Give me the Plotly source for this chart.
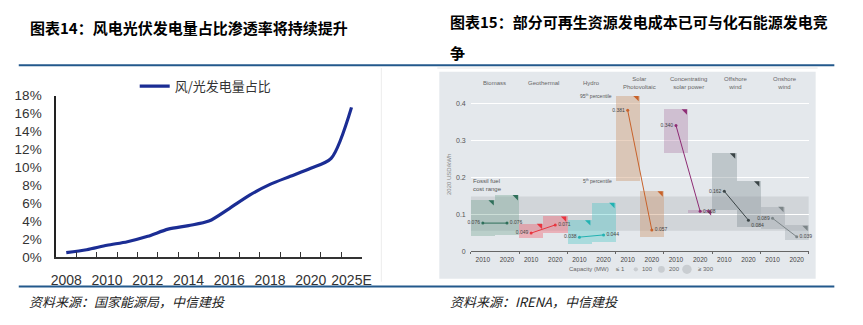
import plotly.graph_objects as go

W, H = 863, 325

# ---------------- Left chart data ----------------
years = ["2008", "2009", "2010", "2011", "2012", "2013", "2014", "2015",
         "2016", "2017", "2018", "2019", "2020", "2021", "2025E"]
year_labels = ["2008", "", "2010", "", "2012", "", "2014", "", "2016", "",
               "2018", "", "2020", "", "2025E"]
share = [0.47, 0.8, 1.3, 1.7, 2.3, 3.1, 3.5, 4.0, 5.4, 6.9, 8.1, 9.0, 9.9, 11.0, 16.7]
y_ticks = [0, 2, 4, 6, 8, 10, 12, 14, 16, 18]
y_ticktext = [f"{v}%" for v in y_ticks]

# ---------------- Right chart data ----------------
techs = ["Biomass", "Geothermal", "Hydro", "Solar<br>Photovoltaic",
         "Concentrating<br>solar power", "Offshore<br>wind", "Onshore<br>wind"]
periods = ["2010", "2020"]
p5_2010 = [0.041, 0.037, 0.021, 0.191, 0.266, 0.113, 0.060]
p95_2010 = [0.139, 0.075, 0.085, 0.421, 0.385, 0.266, 0.121]
p5_2020 = [0.044, 0.049, 0.026, 0.039, 0.105, 0.065, 0.031]
p95_2020 = [0.153, 0.095, 0.132, 0.163, 0.112, 0.190, 0.070]
avg_2010 = [0.076, 0.049, 0.038, 0.381, 0.340, 0.162, 0.089]
avg_2020 = [0.076, 0.071, 0.044, 0.057, 0.108, 0.084, 0.039]
fossil_range = [0.055, 0.148]
r_yticks = [0, 0.1, 0.2, 0.3, 0.4]
r_yticktext = ["0", "0.1", "0.2", "0.3", "0.4"]

box_colors = ["rgba(110,160,140,0.35)", "rgba(240,100,115,0.42)", "rgba(60,195,195,0.35)",
              "rgba(205,150,110,0.42)", "rgba(170,115,160,0.35)", "rgba(120,135,140,0.35)",
              "rgba(140,150,155,0.30)"]
line_colors = ["#2f6f5a", "#e8353f", "#22b2b2", "#c8622a", "#8e2c74", "#3a4446", "#7c8588"]
pos_2020 = ["middle right"] * 5 + ["bottom right", "middle right"]

fig = go.Figure()

# Left line
fig.add_trace(go.Scatter(
    x=years, y=share, mode="lines", name="风/光发电量占比",
    line=dict(color="#1b2d94", width=3.2, shape="spline", smoothing=0.8),
    xaxis="x", yaxis="y", showlegend=True))

# Right boxes
for t, name in enumerate(techs):
    for j, (lo, hi) in enumerate([(p5_2010[t], p95_2010[t]), (p5_2020[t], p95_2020[t])]):
        cx = 2 * t + j + 0.5
        fig.add_trace(go.Bar(x=[cx], y=[hi - lo], base=[lo], width=1,
                             marker=dict(color=box_colors[t], line=dict(width=0)),
                             xaxis="x2", yaxis="y2", showlegend=False, hoverinfo="skip"))
        fig.add_trace(go.Scatter(x=[cx + 0.38], y=[hi - 0.006], mode="markers",
                                 marker=dict(symbol="triangle-ne", size=6, color=line_colors[t]),
                                 xaxis="x2", yaxis="y2", showlegend=False, hoverinfo="skip"))

for t, name in enumerate(techs):
    fig.add_trace(go.Scatter(
        x=[2 * t + 0.5, 2 * t + 1.5], y=[avg_2010[t], avg_2020[t]],
        mode="lines+markers+text",
        text=[f"{avg_2010[t]:.3f}", f"{avg_2020[t]:.3f}"],
        textposition=["middle left", pos_2020[t]],
        textfont=dict(size=5, color="#444", family="Liberation Sans"),
        line=dict(color=line_colors[t], width=1),
        marker=dict(color=line_colors[t], size=3),
        cliponaxis=False,
        xaxis="x2", yaxis="y2", showlegend=False, hoverinfo="skip"))

shapes = [
    # separators
    dict(type="line", xref="paper", yref="paper", x0=14 / W, x1=844 / W, y0=1 - 61 / H, y1=1 - 61 / H,
         line=dict(color="#23598c", width=2)),
    dict(type="line", xref="paper", yref="paper", x0=14 / W, x1=844 / W, y0=1 - 293 / H, y1=1 - 293 / H,
         line=dict(color="#23598c", width=2)),
    dict(type="line", xref="paper", yref="paper", x0=383 / W, x1=383 / W, y0=1 - 64 / H, y1=1 - 288 / H,
         line=dict(color="#ececec", width=1)),
    dict(type="line", xref="paper", yref="paper", x0=440 / W, x1=827 / W, y0=1 - 64 / H, y1=1 - 64 / H,
         line=dict(color="#e6e6e6", width=1)),
    # right background
    dict(type="rect", xref="paper", yref="paper", x0=442 / W, x1=825 / W, y0=1 - 285 / H, y1=1 - 68 / H,
         fillcolor="#e4e8ec", line=dict(width=0), layer="below"),
    # fossil band
    dict(type="rect", xref="x2", yref="y2", x0=0, x1=14, y0=fossil_range[0], y1=fossil_range[1],
         fillcolor="rgba(140,145,150,0.22)", line=dict(width=0), layer="below"),
]
# capacity legend circles
for cx, r in [(622, 0.6), (642, 2.2), (668, 3.5), (694, 4.8)]:
    shapes.append(dict(type="circle", xref="paper", yref="paper",
                       x0=(cx - r) / W, x1=(cx + r) / W, y0=1 - (275 + r) / H, y1=1 - (275 - r) / H,
                       fillcolor="#c9cdd1", line=dict(width=0)))

ann = [
    dict(text="<b>图表14：风电光伏发电量占比渗透率将持续提升</b>", x=23 / W, y=1 - 22 / H,
         xanchor="left", yanchor="middle", font=dict(size=15, color="#000", family="Noto Sans CJK SC")),
    dict(text="<b>图表15：部分可再生资源发电成本已可与化石能源发电竞</b>", x=451 / W, y=1 - 15 / H,
         xanchor="left", yanchor="middle", font=dict(size=15, color="#000", family="Noto Sans CJK SC")),
    dict(text="<b>争</b>", x=451 / W, y=1 - 48 / H,
         xanchor="left", yanchor="middle", font=dict(size=15, color="#000", family="Noto Sans CJK SC")),
    dict(text="<i>资料来源：国家能源局，中信建投</i>", x=22 / W, y=1 - 309 / H,
         xanchor="left", yanchor="middle", font=dict(size=13, color="#222", family="Noto Sans CJK SC")),
    dict(text="<i>资料来源：IRENA，中信建投</i>", x=451 / W, y=1 - 309 / H,
         xanchor="left", yanchor="middle", font=dict(size=13, color="#222", family="Noto Sans CJK SC")),
    dict(text="2020 USD/kWh", x=452 / W, y=1 - 176 / H, textangle=-90,
         xanchor="center", yanchor="middle", font=dict(size=6, color="#888", family="Liberation Sans")),
    dict(text="Fossil fuel<br>cost range", x=0, y=fossil_range[1], xref="x2", yref="y2",
         xanchor="left", yanchor="bottom", align="left", yshift=2,
         font=dict(size=6, color="#555", family="Liberation Sans")),
    dict(text="95<sup>th</sup> percentile", x=6, y=p95_2010[3], xref="x2", yref="y2",
         xanchor="right", yanchor="middle", xshift=-2, font=dict(size=5, color="#555", family="Liberation Sans")),
    dict(text="5<sup>th</sup> percentile", x=6, y=p5_2010[3], xref="x2", yref="y2",
         xanchor="right", yanchor="middle", xshift=-2, font=dict(size=5, color="#555", family="Liberation Sans")),
    dict(text="Capacity (MW)", x=594 / W, y=1 - 275 / H, xanchor="center", yanchor="middle",
         font=dict(size=6, color="#666", family="Liberation Sans")),
]
for cx, lab in [(626, "≤ 1"), (654, "100"), (681, "200"), (713, "≥ 300")]:
    ann.append(dict(text=lab, x=cx / W, y=1 - 275 / H, xanchor="center", yanchor="middle",
                    font=dict(size=6, color="#666", family="Liberation Sans")))
for t, name in enumerate(techs):
    ann.append(dict(text=name, x=2 * t + 1, y=1 - 80 / H, xref="x2", yref="paper",
                    xanchor="center", yanchor="middle", align="center",
                    font=dict(size=6, color="#666", family="Liberation Sans")))
for a in ann:
    a.setdefault("xref", "paper")
    a.setdefault("yref", "paper")
    a["showarrow"] = False

fig.update_layout(
    width=W, height=H, margin=dict(l=0, r=0, t=0, b=0),
    paper_bgcolor="white", plot_bgcolor="rgba(0,0,0,0)",
    barmode="overlay", bargap=0,
    shapes=shapes, annotations=ann,
    legend=dict(x=132 / W, y=1 - 83 / H, xanchor="left", yanchor="middle",
                font=dict(size=13, color="#333", family="Noto Sans CJK SC"),
                bgcolor="rgba(0,0,0,0)", itemwidth=30),
    xaxis=dict(domain=[52 / W, 363 / W], anchor="y", type="category",
               categoryorder="array", categoryarray=years,
               tickmode="array", tickvals=years, ticktext=year_labels,
               tickson="boundaries", ticks="inside", ticklen=5, tickcolor="#333",
               showline=True, linecolor="#333", linewidth=1.5, showgrid=False,
               tickangle=0,
               tickfont=dict(size=14, color="#333", family="Liberation Sans"),
               ticklabelstandoff=10, range=[-0.5, 14.5]),
    yaxis=dict(domain=[1 - 262 / H, 1 - 93 / H], anchor="x", range=[0, 18],
               tickmode="array", tickvals=y_ticks, ticktext=y_ticktext,
               ticks="", showline=True, linecolor="#222", linewidth=1.5,
               showgrid=False, zeroline=False,
               tickfont=dict(size=13.5, color="#333", family="Liberation Sans"),
               ticklabelstandoff=10),
    xaxis2=dict(domain=[474 / W, 818 / W], anchor="y2", range=[0, 14],
                tickmode="array", tickvals=[k + 0.5 for k in range(14)],
                ticktext=[periods[k % 2] for k in range(14)],
                ticks="", showline=True, linecolor="#666", linewidth=1, showgrid=False,
                zeroline=False, tickangle=0,
                minor=dict(tick0=0, dtick=2, ticks="outside", ticklen=2, tickcolor="#666"),
                tickfont=dict(size=6.5, color="#444", family="Liberation Sans"),
                ticklabelstandoff=2),
    yaxis2=dict(domain=[1 - 256 / H, 1 - 81.6 / H], anchor="x2", range=[0, 0.45],
                tickmode="array", tickvals=r_yticks, ticktext=r_yticktext,
                ticks="", showline=False, showgrid=True, gridcolor="#ffffff", gridwidth=1,
                zeroline=False,
                tickfont=dict(size=7, color="#555", family="Liberation Sans"),
                ticklabelstandoff=4),
)

fig.write_html("out.html")
